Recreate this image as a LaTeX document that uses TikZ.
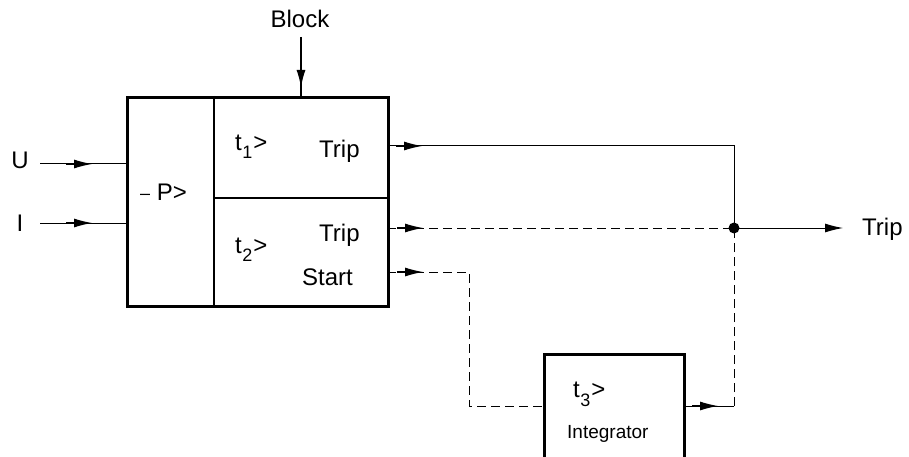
\documentclass[tikz,border=0pt]{standalone}
\usepackage{fontspec}
\setmainfont{Liberation Sans}
\usetikzlibrary{arrows.meta,decorations.markings}
\newcommand\tlab[2]{t\kern0.5pt\raisebox{-#2}{\fontsize{18}{18}\selectfont #1}\kern1pt>}
\begin{document}
\begin{tikzpicture}[x=1pt,y=-1pt,
  lbl/.style={inner sep=0pt,anchor=base west,font=\fontsize{24}{28}\selectfont},
  smalllbl/.style={inner sep=0pt,anchor=base west,font=\fontsize{19}{22}\selectfont},
  boxthick/.style={draw,line width=2.6pt,inner sep=0pt,anchor=north west},
  wire/.style={line width=1pt},
  thinsep/.style={line width=1.1pt},
  dwire/.style={wire,dash pattern=on 9pt off 5pt},
  arrowat/.style={postaction={decorate},decoration={markings,
      mark=at position #1 with {\arrow{Latex[length=18pt,width=9pt]}
        \draw[solid,line width=1.7pt] (-26pt,0) -- (-17pt,0);}}},
  endarrow/.style={-{Latex[length=18pt,width=9pt]}}
]
\useasboundingbox (0,0) rectangle (909,457);
\clip (0,0) rectangle (909,457);

% main relay box
\node[boxthick,minimum width=261pt,minimum height=209pt] (relay) at (126,96) {};
\coordinate (divtop) at (214,96);
\coordinate (divbot) at (214,305);
\coordinate (hdivl) at (214,198);
\coordinate (hdivr) at (387,198);
\draw[thinsep] (divtop) -- (divbot);
\draw[thinsep] (hdivl) -- (hdivr);

% integrator box (cut off by the bottom edge)
\node[boxthick,minimum width=140pt,minimum height=140pt] (integ) at (543,353) {};

% labels
\node[inner sep=0pt,anchor=base,font=\fontsize{24}{28}\selectfont] (blocklbl) at (300,28) {Block};
\node[inner sep=0pt,anchor=base,font=\fontsize{24}{28}\selectfont] (ulbl) at (20,168) {U};
\node[inner sep=0pt,anchor=base,font=\fontsize{24}{28}\selectfont] (ilbl) at (20,231) {I};
\node[lbl] (plbl) at (140,200) {\raisebox{1pt}{\fontsize{18}{20}\selectfont –} P>};
\node[lbl] (t1) at (235,151) {\tlab{1}{8pt}};
\node[lbl] (trip1) at (319,158) {Trip};
\node[lbl] (t2) at (235,253) {\tlab{2}{8pt}};
\node[lbl] (trip2) at (319,241) {Trip};
\node[lbl] (start) at (302,285) {Start};
\node[lbl] (t3) at (573,397) {\tlab{3}{9pt}};
\node[smalllbl] (integlbl) at (567,438) {Integrator};
\node[lbl] (tripout) at (862,235) {Trip};

% coordinates of connector ends
\coordinate (blk) at (301,37);
\coordinate (uin) at (40,164);
\coordinate (iin) at (40,223);
\coordinate (o1) at (387,146);
\coordinate (o2) at (387,228);
\coordinate (o3) at (387,272);
\coordinate (c1) at (734,146);
\coordinate (jn) at (734,228);
\coordinate (s1) at (469,272);
\coordinate (s2) at (469,406);
\coordinate (iinp) at (543,406);
\coordinate (iout) at (683,406);
\coordinate (c2) at (734,406);
\coordinate (outend) at (843,228);

% inputs
\draw[wire,arrowat=52pt] (uin) -- (uin -| relay.west);
\draw[wire,arrowat=52pt] (iin) -- (iin -| relay.west);
\draw[line width=2pt,arrowat=51pt] (blk) -- (blk |- relay.north);

% outputs
\draw[wire,arrowat=35pt] (o1) -- (c1) -- (jn);
\draw[dwire,arrowat=36pt] (o2) -- (jn);
\draw[dwire,arrowat=36pt] (o3) -- (s1) -- (s2) -- (iinp);
\draw[wire,arrowat=35pt] (iout) -- (c2);
\draw[dwire] (c2) -- (jn);
\draw[wire,endarrow] (jn) -- (outend);
\fill (jn) circle (5.5pt);
\end{tikzpicture}
\end{document}
